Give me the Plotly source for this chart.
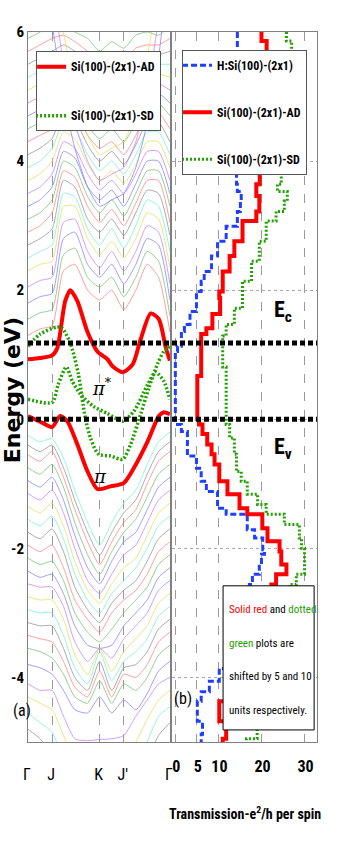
import plotly.graph_objects as go

# ---------------- data ----------------
k_ticks = [0.0, 0.17, 0.505, 0.675, 1.0]
k_labels = ["Γ", "J", "K", "J′", "Γ"]
k_grid = [0, 0.085, 0.17, 0.25, 0.33, 0.42, 0.505, 0.59, 0.675, 0.76, 0.84, 0.92, 1.0]

cond_bands = [
    [1.3, 1.4, 1.45, 2.3, 2.4, 2.0, 1.85, 2.0, 1.7, 2.0, 2.4, 2.2, 1.35],
    [1.55, 1.65, 1.7, 2.55, 2.65, 2.2, 2.05, 2.2, 1.9, 2.2, 2.6, 2.45, 1.6],
    [1.8, 1.9, 1.95, 2.8, 2.9, 2.4, 2.2, 2.4, 2.1, 2.4, 2.8, 2.7, 1.85],
    [2.05, 2.15, 2.2, 3.05, 3.1, 2.6, 2.35, 2.6, 2.3, 2.6, 3.0, 2.9, 2.1],
    [2.3, 2.4, 2.45, 3.3, 3.3, 2.8, 2.55, 2.75, 2.5, 2.8, 3.2, 3.1, 2.35],
    [2.5, 2.6, 2.7, 3.5, 3.45, 2.95, 2.7, 2.95, 2.65, 3.0, 3.4, 3.3, 2.6],
    [2.7, 2.8, 2.95, 3.7, 3.6, 3.1, 2.9, 3.1, 2.85, 3.2, 3.55, 3.5, 2.85],
    [2.9, 3.0, 3.2, 3.85, 3.75, 3.3, 3.05, 3.25, 3.0, 3.35, 3.7, 3.7, 3.05],
    [3.1, 3.2, 3.4, 4.0, 3.9, 3.45, 3.2, 3.4, 3.15, 3.5, 3.85, 3.85, 3.3],
    [3.3, 3.4, 3.6, 4.15, 4.05, 3.6, 3.4, 3.55, 3.3, 3.65, 4.0, 4.0, 3.5],
    [3.5, 3.6, 3.8, 4.3, 4.2, 3.8, 3.55, 3.7, 3.5, 3.8, 4.15, 4.15, 3.7],
    [3.7, 3.8, 4.0, 4.45, 4.35, 3.95, 3.7, 3.85, 3.65, 3.95, 4.3, 4.3, 3.9],
    [3.9, 4.0, 4.2, 4.6, 4.5, 4.1, 3.85, 4.0, 3.8, 4.1, 4.45, 4.45, 4.1],
    [4.1, 4.2, 4.35, 4.75, 4.65, 4.25, 4.0, 4.15, 3.95, 4.25, 4.6, 4.6, 4.3],
    [4.3, 4.4, 4.5, 4.9, 4.8, 4.4, 4.2, 4.3, 4.1, 4.4, 4.75, 4.75, 4.5],
    [4.5, 4.6, 4.7, 5.05, 4.95, 4.55, 4.35, 4.5, 4.3, 4.6, 4.9, 4.9, 4.7],
    [4.7, 4.8, 4.9, 5.2, 5.1, 4.7, 4.5, 4.65, 4.5, 4.75, 5.05, 5.05, 4.9],
    [4.9, 5.0, 5.1, 5.35, 5.25, 4.9, 4.7, 4.85, 4.7, 4.95, 5.2, 5.2, 5.1],
    [5.1, 5.2, 5.3, 5.5, 5.4, 5.1, 4.9, 5.05, 4.9, 5.15, 5.35, 5.35, 5.3],
    [5.3, 5.4, 5.5, 5.65, 5.55, 5.3, 5.1, 5.25, 5.1, 5.35, 5.5, 5.5, 5.5],
    [5.5, 5.6, 5.7, 5.8, 5.7, 5.5, 5.3, 5.45, 5.3, 5.55, 5.65, 5.65, 5.7],
    [5.7, 5.8, 5.9, 5.95, 5.85, 5.7, 5.5, 5.65, 5.55, 5.75, 5.8, 5.8, 5.9],
    [5.9, 6.0, 6.1, 6.1, 6.0, 5.9, 5.7, 5.85, 5.75, 5.95, 6.0, 5.95, 6.1],
    [7.4, 6.9, 6.1, 5.0, 4.2, 3.6, 3.3, 3.4, 3.5, 3.9, 4.6, 5.6, 7.2],
    [8.0, 7.5, 6.7, 5.5, 4.6, 4.0, 3.7, 3.8, 3.9, 4.3, 5.1, 6.2, 7.8],
    [8.6, 8.0, 7.2, 6.0, 5.1, 4.4, 4.1, 4.2, 4.3, 4.8, 5.6, 6.7, 8.4],
]

val_bands = [
    [-0.25, -0.35, -0.3, -0.6, -1.1, -1.6, -1.95, -1.6, -1.3, -1.1, -0.7, -0.35, -0.2],
    [-0.4, -0.5, -0.4, -0.75, -1.25, -1.75, -2.1, -1.75, -1.45, -1.25, -0.85, -0.5, -0.35],
    [-0.55, -0.65, -0.5, -0.9, -1.4, -1.9, -2.25, -1.9, -1.6, -1.4, -1.0, -0.65, -0.5],
    [-0.75, -0.85, -0.7, -1.05, -1.6, -2.1, -2.4, -2.05, -1.75, -1.55, -1.2, -0.85, -0.7],
    [-0.95, -1.05, -0.9, -1.25, -1.8, -2.3, -2.55, -2.2, -1.9, -1.75, -1.4, -1.05, -0.9],
    [-1.15, -1.25, -1.1, -1.45, -2.0, -2.5, -2.7, -2.4, -2.1, -1.95, -1.6, -1.25, -1.1],
    [-1.35, -1.45, -1.3, -1.65, -2.2, -2.65, -2.85, -2.55, -2.3, -2.15, -1.8, -1.45, -1.3],
    [-1.55, -1.65, -1.5, -1.85, -2.4, -2.8, -3.0, -2.7, -2.5, -2.3, -2.0, -1.65, -1.5],
    [-1.75, -1.85, -1.7, -2.05, -2.6, -2.95, -3.15, -2.85, -2.65, -2.5, -2.2, -1.85, -1.7],
    [-1.95, -2.05, -1.95, -2.3, -2.8, -3.1, -3.3, -3.0, -2.8, -2.65, -2.4, -2.05, -1.9],
    [-2.15, -2.25, -2.2, -2.5, -3.0, -3.3, -3.45, -3.25, -3.0, -2.8, -2.6, -2.25, -2.1],
    [-2.35, -2.45, -2.4, -2.7, -3.2, -3.5, -3.55, -3.5, -3.2, -3.0, -2.8, -2.45, -2.3],
    [-2.55, -2.6, -2.6, -2.9, -3.45, -3.75, -3.55, -3.7, -3.4, -3.2, -3.0, -2.65, -2.5],
    [-2.75, -2.8, -2.8, -3.1, -3.65, -3.95, -3.55, -3.9, -3.6, -3.4, -3.2, -2.85, -2.7],
    [-2.95, -3.0, -3.0, -3.35, -3.85, -4.1, -3.6, -4.05, -3.75, -3.6, -3.4, -3.05, -2.9],
    [-3.15, -3.2, -3.2, -3.55, -4.0, -4.2, -3.75, -4.2, -3.85, -3.8, -3.6, -3.25, -3.1],
    [-3.35, -3.4, -3.45, -3.75, -4.15, -4.3, -3.9, -4.3, -3.95, -4.0, -3.8, -3.45, -3.3],
    [-3.55, -3.6, -3.7, -3.95, -4.3, -4.4, -4.05, -4.4, -4.1, -4.2, -4.0, -3.65, -3.5],
    [-3.8, -3.85, -3.95, -4.2, -4.5, -4.55, -4.3, -4.55, -4.35, -4.5, -4.25, -3.9, -3.75],
    [-4.1, -4.2, -4.2, -4.6, -4.95, -4.98, -4.96, -4.95, -4.9, -4.6, -4.35, -4.1, -4.0],
    [-4.3, -4.4, -4.5, -4.9, -5.3, -5.5, -5.5, -5.45, -5.3, -5.0, -4.65, -4.35, -4.2],
    [-4.55, -4.7, -4.85, -5.3, -5.8, -6.0, -6.1, -6.0, -5.8, -5.4, -5.0, -4.6, -4.45],
    [-4.8, -4.95, -5.2, -5.8, -6.3, -6.6, -6.7, -6.6, -6.3, -5.8, -5.3, -4.9, -4.7],
]

band_colors = ["#ff7a7a", "#6cc06c", "#7a7aff", "#c27aff", "#e0e050", "#70f0d0", "#8c8c8c"]

# surface bands (k, E)
ad_up_k = [0, 0.085, 0.17, 0.206, 0.262, 0.298, 0.348, 0.418, 0.489, 0.56, 0.596, 0.667, 0.738, 0.794, 0.865, 0.922, 0.972, 1.0]
ad_up_e = [0.93, 0.95, 0.99, 1.1, 1.83, 2.0, 1.83, 1.36, 1.05, 0.93, 0.82, 0.73, 0.85, 1.24, 1.64, 1.55, 1.1, 0.91]
ad_lo_k = [0, 0.106, 0.17, 0.227, 0.277, 0.348, 0.418, 0.489, 0.582, 0.674, 0.745, 0.844, 0.922, 0.957, 1.0]
ad_lo_e = [0.05, -0.06, -0.12, 0.05, -0.03, -0.39, -0.8, -1.08, -1.04, -0.99, -0.76, -0.34, 0.05, 0.11, 0.08]
sd_a_k = [0, 0.17, 0.213, 0.27, 0.312, 0.369, 0.461, 0.56, 0.667, 0.745, 0.844, 0.9, 0.957, 1.0]
sd_a_e = [0.31, 0.26, 0.54, 0.81, 0.59, 0.39, 0.2, 0.09, -0.03, 0.12, 0.54, 0.73, 0.59, 0.31]
sd_b_k = [0, 0.085, 0.206, 0.241, 0.298, 0.355, 0.404, 0.44, 0.496, 0.582, 0.667, 0.723, 0.794, 0.851, 0.915, 0.957, 1.0]
sd_b_e = [1.13, 1.32, 1.43, 1.41, 1.18, 0.7, 0.02, -0.29, -0.54, -0.57, -0.62, -0.39, 0.08, 0.48, 0.87, 1.05, 1.13]

# transmission (T, E)
hsi_e = [6.0, 5.86, 5.0, 4.3, 3.64, 3.53, 3.38, 3.22, 2.99, 2.76, 2.53, 2.29, 2.14, 1.98, 1.67, 1.47, 1.36, 1.13, 1.05,
         0.0, -0.08, -0.19, -0.54, -0.57, -0.76, -0.96, -1.12, -1.38, -1.47, -1.71, -1.84, -2.02, -2.09, -2.25, -2.4,
         -2.56, -2.98, -3.44, -3.86, -4.06, -4.22, -4.37, -4.68, -4.88, -5.04]
hsi_t = [14.4, 14.4, 14.8, 14.2, 14.4, 15.3, 15.1, 14.4, 11.8, 9.8, 8.4, 6.7, 6.0, 4.9, 3.4, 2.1, 1.4, 0.5, 0.0,
         0.0, 1.4, 2.8, 2.8, 4.9, 6.0, 7.2, 9.8, 11.8, 16.7, 18.4, 20.3, 20.7, 20.0, 19.5, 17.9,
         17.2, 15.0, 12.5, 10.2, 7.9, 6.0, 5.1, 6.3, 6.0, 5.3]
ad_e = [6.0, 5.86, 5.0, 4.3, 3.64, 3.46, 3.22, 3.07, 2.76, 2.53, 2.29, 1.98, 1.88, 1.63, 1.41, 1.32, 0.71, 0.67, 0.08,
        0.0, -0.08, -0.23, -0.39, -0.54, -0.7, -0.96, -1.16, -1.38, -1.47, -1.69, -1.89, -2.05, -2.25, -2.4, -2.56,
        -3.13, -3.75, -4.22, -4.37, -4.68, -4.95, -5.04]
ad_t = [20.0, 21.2, 20.4, 19.6, 18.8, 19.5, 18.8, 15.6, 13.7, 12.6, 11.0, 10.2, 10.4, 8.6, 7.2, 6.0, 6.0, 5.1, 5.1,
        5.5, 6.3, 7.4, 8.4, 9.1, 10.2, 12.1, 14.9, 16.7, 20.2, 21.4, 24.2, 24.6, 25.8, 23.4, 22.3,
        19.0, 15.0, 12.0, 10.2, 11.8, 11.0, 11.0]
sd_e = [6.0, 5.86, 5.0, 4.3, 3.64, 3.53, 3.38, 3.22, 3.07, 2.76, 2.45, 2.14, 1.72, 1.47, 1.29, 0.85, 0.81, 0.05,
        -0.08, -0.29, -0.54, -0.81, -0.96, -1.16, -1.32, -1.47, -1.63, -1.84, -2.0, -2.25, -2.4, -2.56,
        -3.13, -4.06, -4.95, -5.04]
sd_t = [25.8, 27.0, 25.5, 24.6, 23.7, 26.0, 25.3, 23.4, 21.1, 19.5, 17.7, 15.6, 13.7, 11.8, 11.0, 11.0, 11.8, 11.8,
        12.6, 13.7, 14.2, 15.3, 16.7, 19.1, 21.1, 25.3, 28.8, 29.3, 30.0, 30.0, 28.1, 26.5,
        24.0, 19.0, 16.5, 15.6]

e_ticks = [-4, -2, 0, 2, 4, 6]
e_labels = ["-4", "-2", "0", "2", "4", "6"]
t_ticks = [0, 5, 10, 20, 30]
t_labels = ["0", "5", "10", "20", "30"]
e_c = 1.18
e_v = 0.0

NARROW = "Roboto Condensed, Liberation Sans, Arial, sans-serif"

fig = go.Figure()

for i, b in enumerate(cond_bands + val_bands):
    fig.add_trace(go.Scatter(x=k_grid, y=b, mode="lines", xaxis="x", yaxis="y",
                             line=dict(color=band_colors[i % 7], width=0.9, shape="spline", smoothing=0.6),
                             opacity=0.8, showlegend=False, hoverinfo="skip"))

fig.add_trace(go.Scatter(x=ad_up_k, y=ad_up_e, mode="lines", xaxis="x", yaxis="y",
                         line=dict(color="#ff0000", width=4, shape="spline", smoothing=0.7),
                         name="Si(100)-(2x1)-AD", legend="legend", legendgroup="a1"))
fig.add_trace(go.Scatter(x=ad_lo_k, y=ad_lo_e, mode="lines", xaxis="x", yaxis="y",
                         line=dict(color="#ff0000", width=4, shape="spline", smoothing=0.7),
                         showlegend=False))
fig.add_trace(go.Scatter(x=sd_a_k, y=sd_a_e, mode="lines", xaxis="x", yaxis="y",
                         line=dict(color="#22a000", width=3.5, dash="2px,2px", shape="spline", smoothing=0.7),
                         name="Si(100)-(2x1)-SD", legend="legend", legendgroup="a2"))
fig.add_trace(go.Scatter(x=sd_b_k, y=sd_b_e, mode="lines", xaxis="x", yaxis="y",
                         line=dict(color="#22a000", width=3.5, dash="2px,2px", shape="spline", smoothing=0.7),
                         showlegend=False))

fig.add_trace(go.Scatter(x=hsi_t, y=hsi_e, mode="lines", xaxis="x2", yaxis="y2",
                         line=dict(color="#1f3fff", width=3, dash="6px,3px", shape="vh"),
                         name="H:Si(100)-(2x1)", legend="legend2", legendgroup="b1"))
fig.add_trace(go.Scatter(x=ad_t, y=ad_e, mode="lines", xaxis="x2", yaxis="y2",
                         line=dict(color="#ff0000", width=4, shape="vh"),
                         name="Si(100)-(2x1)-AD", legend="legend2", legendgroup="b2"))
fig.add_trace(go.Scatter(x=sd_t, y=sd_e, mode="lines", xaxis="x2", yaxis="y2",
                         line=dict(color="#22a000", width=3, dash="2px,2px", shape="vh"),
                         name="Si(100)-(2x1)-SD", legend="legend2", legendgroup="b3"))

shapes = []
for ev in (e_c, e_v):
    shapes.append(dict(type="line", xref="paper", x0=0, x1=1, yref="y", y0=ev, y1=ev,
                       line=dict(color="black", width=5, dash="5px,3px"), layer="above"))
shapes.append(dict(type="rect", xref="paper", yref="paper", x0=0.675, x1=0.99, y0=0.017, y1=0.22,
                   line=dict(color="black", width=1), fillcolor="white", layer="above"))

G = "#22a000"
box_lines = [
    "<span style='color:#ff0000'>Solid red</span> and <span style='color:%s'>dotted</span>" % G,
    "<span style='color:%s'>green</span> plots are" % G,
    "shifted by 5 and 10",
    "units respectively.",
]
box_y = [0.186, 0.139, 0.092, 0.045]

annotations = []
for t, yy in zip(box_lines, box_y):
    annotations.append(dict(text=t, xref="paper", yref="paper", x=0.689, y=yy, xanchor="left", yanchor="middle",
                            showarrow=False, font=dict(family=NARROW, size=11, color="black")))

annotations += [
    dict(text="Energy (eV)", xref="paper", yref="paper", x=-0.054, y=0.496, textangle=-90, showarrow=False,
         font=dict(family="DejaVu Sans, Arial", size=22, color="black", weight="bold"),
         xanchor="center", yanchor="middle"),
    dict(text="Transmission-e<sup>2</sup>/h per spin", xref="paper", yref="paper", x=0.751, y=-0.1,
         showarrow=False, font=dict(family=NARROW, size=14, color="black", weight="bold"),
         xanchor="center", yanchor="middle"),
    dict(text="E<sub>c</sub>", xref="x2", yref="y", x=25, y=1.67, showarrow=False,
         font=dict(family=NARROW, size=22, color="black", weight="bold")),
    dict(text="E<sub>v</sub>", xref="x2", yref="y", x=25, y=-0.45, showarrow=False,
         font=dict(family=NARROW, size=22, color="black", weight="bold")),
    dict(text="π<sup>*</sup>", xref="x", yref="y", x=0.52, y=0.5, showarrow=False,
         font=dict(family="DejaVu Serif, serif", size=18, color="black", style="italic")),
    dict(text="π", xref="x", yref="y", x=0.51, y=-0.88, showarrow=False,
         font=dict(family="DejaVu Serif, serif", size=18, color="black", style="italic")),
    dict(text="(a)", xref="paper", yref="paper", x=-0.059, y=0.028, showarrow=False,
         font=dict(family=NARROW, size=16, color="black")),
    dict(text="(b)", xref="paper", yref="paper", x=0.536, y=0.045, showarrow=False,
         font=dict(family=NARROW, size=16, color="black")),
]

axis_common = dict(showline=True, mirror=True, linecolor="#808080", linewidth=1, zeroline=False, ticks="",
                   automargin=False)

fig.update_layout(
    width=341, height=850,
    margin=dict(l=28, r=24, t=32, b=108, autoexpand=False),
    paper_bgcolor="white", plot_bgcolor="white",
    xaxis=dict(domain=[0, 0.491], range=[0, 1], tickvals=k_ticks, ticktext=k_labels, anchor="y",
               showgrid=True, gridcolor="#9a9a9a", griddash="dash", gridwidth=1, ticklabelstandoff=18,
               ticklabelshift=-1, tickangle=0,
               tickfont=dict(family=NARROW, size=16, color="black"), **axis_common),
    yaxis=dict(range=[-5, 6], tickvals=e_ticks, ticktext=e_labels, anchor="x", showgrid=False,
               ticklabelstandoff=0,
               tickfont=dict(family=NARROW, size=15, color="black", weight="bold"), **axis_common),
    xaxis2=dict(domain=[0.498, 1], range=[-0.8, 32.9], tickvals=t_ticks, ticktext=t_labels, anchor="y2",
                showgrid=True, gridcolor="#9a9a9a", griddash="dash", gridwidth=1, ticklabelstandoff=10,
                ticklabelshift=1, tickangle=0,
                tickfont=dict(family=NARROW, size=16, color="black", weight="bold"), **axis_common),
    yaxis2=dict(range=[-5, 6], matches="y", tickvals=e_ticks, anchor="x2", showticklabels=False,
                showgrid=True, gridcolor="#aaaaaa", griddash="dot", gridwidth=1, **axis_common),
    legend=dict(x=0.028, y=0.973, xanchor="left", yanchor="top", bgcolor="white", bordercolor="#555",
                borderwidth=1, tracegroupgap=30, itemwidth=30, indentation=-6,
                font=dict(family=NARROW, size=12, color="black", weight="bold")),
    legend2=dict(x=0.533, y=0.975, xanchor="left", yanchor="top", bgcolor="white", bordercolor="#555",
                 borderwidth=1, tracegroupgap=28, itemwidth=30, indentation=-6,
                 font=dict(family=NARROW, size=12, color="black", weight="bold")),
    shapes=shapes,
    annotations=annotations,
)

# remove the default 8px page margin so the 341x850 figure fills the window exactly
fig.write_html("out.html", config={"displayModeBar": False},
               post_script="document.body.style.margin='0px';")
